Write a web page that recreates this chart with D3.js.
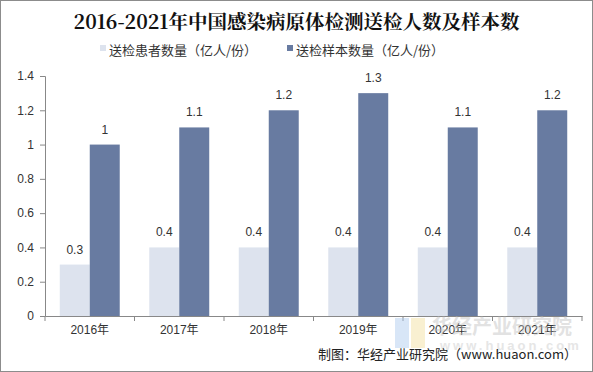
<!DOCTYPE html>
<html>
<head>
<meta charset="utf-8">
<script src="https://cdn.jsdelivr.net/npm/d3@7"></script>
<style>
  body { margin: 0; background: #fff; }
  svg { display: block; font-family: "Liberation Sans", Arial, "Noto Sans CJK SC", sans-serif; }
</style>
</head>
<body>
<svg id="chart"></svg>
<script>
const years = ['2016年', '2017年', '2018年', '2019年', '2020年', '2021年']
const patients = [0.3, 0.4, 0.4, 0.4, 0.4, 0.4]
const samples = [1, 1.1, 1.2, 1.3, 1.1, 1.2]
const seriesNames = ['送检患者数量（亿人/份）', '送检样本数量（亿人/份）']
const yTicks = [0, 0.2, 0.4, 0.6, 0.8, 1, 1.2, 1.4]

const width = 593
const height = 372
const colors = ['#dde3ee', '#687ba1']
const margin = {top: 76, right: 11, bottom: 56, left: 45}

const svg = d3.select('#chart')
  .attr('width', width)
  .attr('height', height)

// outer frame
svg.append('rect')
  .attr('x', 0.5).attr('y', 0.5)
  .attr('width', width - 1).attr('height', height - 1)
  .attr('fill', '#fff')
  .attr('stroke', '#8c8c8c')

svg.append('text')
  .attr('x', width / 2)
  .attr('y', 29)
  .attr('text-anchor', 'middle')
  .style('font-family', '"Noto Serif CJK SC", "Noto Sans CJK SC", serif')
  .style('font-weight', 'bold')
  .style('font-size', '19.5px')
  .attr('fill', '#111')
  .text('2016-2021年中国感染病原体检测送检人数及样本数')

// legend
const legendX = [100, 287]
const legend = svg.selectAll('.legend')
  .data(seriesNames)
  .enter()
  .append('g')
  .attr('transform', (d, i) => `translate(${legendX[i]},50)`)

legend.append('rect')
  .attr('x', 0).attr('y', -5)
  .attr('width', 6).attr('height', 6)
  .attr('fill', (d, i) => colors[i])

legend.append('text')
  .attr('x', 9).attr('y', 0)
  .attr('dy', '0.35em')
  .style('font-family', '"Noto Sans CJK SC", sans-serif')
  .style('font-size', '13px')
  .attr('fill', '#333')
  .text(d => d)

const x0 = d3.scaleBand()
  .domain(years)
  .range([margin.left, width - margin.right])
  .paddingInner(0.33)
  .paddingOuter(0.165)

const x1 = d3.scaleBand()
  .domain([0, 1])
  .range([0, x0.bandwidth()])

const y = d3.scaleLinear()
  .domain([0, 1.4])
  .range([height - margin.bottom, margin.top])

const g = svg.append('g')

// watermark
const wm = svg.append('g').attr('opacity', 0.45)
wm.append('rect').attr('x', 395).attr('y', 318).attr('width', 14).attr('height', 30).attr('fill', '#a9c8ee')
wm.append('rect').attr('x', 411).attr('y', 318).attr('width', 14).attr('height', 30).attr('fill', '#f3df9a')
wm.append('text')
  .attr('x', 432).attr('y', 334)
  .style('font-family', '"Noto Sans CJK SC", sans-serif')
  .style('font-size', '20px').style('font-weight', 'bold')
  .attr('fill', '#bfbfbf')
  .text('华经产业研究院')
wm.append('text')
  .attr('x', 440).attr('y', 350)
  .style('font-size', '13px').style('font-weight', 'bold')
  .style('letter-spacing', '3px')
  .attr('fill', '#c8c8c8')
  .text('www.huaon.com')

const groups = g.selectAll('.year')
  .data(years)
  .enter()
  .append('g')
  .attr('transform', d => `translate(${x0(d)},0)`)

groups.selectAll('rect')
  .data((d, i) => [patients[i], samples[i]])
  .enter()
  .append('rect')
  .attr('x', (d, j) => x1(j))
  .attr('y', d => y(d))
  .attr('width', x1.bandwidth())
  .attr('height', d => y(0) - y(d))
  .attr('fill', (d, j) => colors[j])

groups.selectAll('.label')
  .data((d, i) => [patients[i], samples[i]])
  .enter()
  .append('text')
  .attr('x', (d, j) => x1(j) + x1.bandwidth() / 2)
  .attr('y', d => y(d) - 11)
  .attr('text-anchor', 'middle')
  .style('font-size', '12px')
  .attr('fill', '#333')
  .text(d => d)

// y axis
const yAxis = g.append('g')
  .attr('transform', `translate(${margin.left},0)`)
  .call(d3.axisLeft(y).tickValues(yTicks).tickSize(5).tickPadding(6).tickFormat(d3.format('')))
yAxis.select('.domain').attr('stroke', '#888')
yAxis.selectAll('.tick line').attr('stroke', '#888')
yAxis.selectAll('.tick text').style('font-size', '12px').attr('fill', '#333')

// x axis
const xAxis = g.append('g')
  .attr('transform', `translate(0,${y(0)})`)
  .call(d3.axisBottom(x0).tickSize(0).tickPadding(9))
xAxis.select('.domain').attr('stroke', '#888')
xAxis.selectAll('.tick text')
  .style('font-family', '"Liberation Sans", "Noto Sans CJK SC", sans-serif')
  .style('font-size', '12px').attr('fill', '#333')

const bounds = d3.range(years.length + 1).map(i => margin.left + i * (width - margin.left - margin.right) / years.length)
xAxis.selectAll('.bound')
  .data(bounds)
  .enter()
  .append('line')
  .attr('x1', d => d).attr('x2', d => d)
  .attr('y1', 0).attr('y2', 5)
  .attr('stroke', '#888')

svg.append('text')
  .attr('x', 577)
  .attr('y', 359)
  .attr('text-anchor', 'end')
  .style('font-family', '"Noto Sans CJK SC", sans-serif')
  .style('font-size', '13px')
  .attr('fill', '#222')
  .text('制图：华经产业研究院（www.huaon.com）')
</script>
</body>
</html>
